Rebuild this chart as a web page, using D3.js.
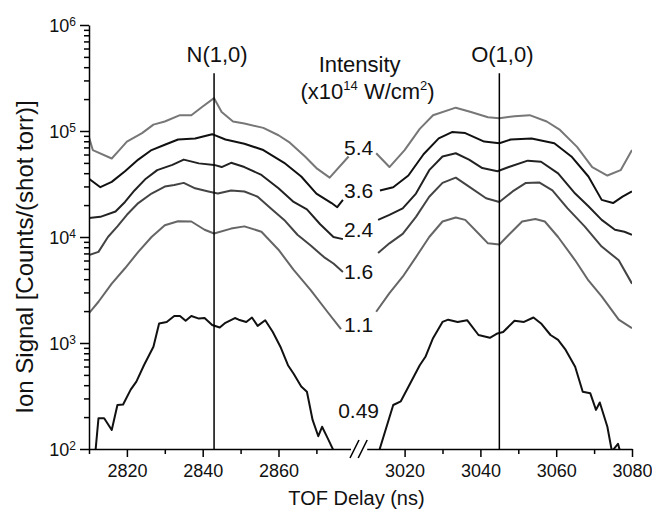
<!DOCTYPE html>
<html lang="en">
<head>
<meta charset="UTF-8">
<title>Ion signal vs TOF delay</title>
<style>
  body { margin: 0; background: #fff; }
  text { font-family: "Liberation Sans", Arial, Helvetica, sans-serif; fill: #111; }
</style>
</head>
<body>
<div id="chart"></div>
<script src="https://d3js.org/d3.v7.min.js"></script>
<script>
// laser intensity of each trace (x10^14 W/cm^2), top trace first
const intensities = ["5.4", "3.6", "2.4", "1.6", "1.1", "0.49"];
const traceColors = ["#777", "#111", "#222", "#444", "#666", "#111"];

// [TOF delay (ns), ion signal] around the N(1,0) revival
const n54 = [[2810, 87100], [2811, 66100], [2816, 55000], [2818, 66100], [2820, 79400], [2824, 95500],
  [2827, 114800], [2830, 123000], [2834, 141000], [2837, 141000], [2840, 170000], [2843, 204000],
  [2845, 151000], [2848, 123000], [2851, 117500], [2856, 107000], [2860, 91200], [2863, 77600],
  [2867, 57500], [2870, 44700], [2873.5, 36300], [2878.5, 57500]];
const n36 = [[2810, 35500], [2813, 29500], [2816, 33100], [2819.5, 41700], [2823, 53700], [2826.5, 66100],
  [2830, 74100], [2833.5, 83200], [2838, 85100], [2842.5, 93300], [2846, 83200], [2851, 75900],
  [2856, 66100], [2861.5, 50100], [2866, 37200], [2870, 25700], [2874, 20900], [2875.5, 19100], [2877, 22400]];
const n24 = [[2810, 15100], [2813, 15500], [2817, 17400], [2819.5, 21400], [2822, 27500], [2825, 35500],
  [2828, 42700], [2832, 47900], [2835, 53700], [2839, 49500], [2843, 47900], [2845, 45700],
  [2847.5, 50100], [2851, 45700], [2855.5, 38500], [2860, 28800], [2864, 21400], [2867.5, 18200],
  [2871, 13200], [2874.5, 10000], [2877, 9550]];
const n16 = [[2810, 6760], [2812.5, 7240], [2815, 10000], [2817.5, 12600], [2820, 16200], [2823, 20900],
  [2826.5, 25700], [2830, 29900], [2832.5, 30900], [2835, 32400], [2838, 28800], [2841.5, 26900],
  [2844, 25700], [2847.5, 27500], [2851, 26900], [2854.5, 24000], [2858, 18600], [2861.5, 14500],
  [2865, 10500], [2868.5, 8320], [2872, 6460], [2874.5, 5620], [2877, 4680]];
const n11 = [[2810, 1910], [2812.5, 2450], [2816, 3630], [2819.5, 5070], [2823, 7240], [2826.5, 10000],
  [2830, 12900], [2833.5, 14100], [2837, 14000], [2840.5, 11700], [2843, 10800], [2847.5, 12000],
  [2851, 12600], [2855.5, 11200], [2860, 7590], [2864, 4900], [2868.5, 3160], [2873, 1950], [2876.5, 1350]];
const n049 = [[2811.5, 79], [2812.5, 195], [2814, 195], [2816, 151], [2817.5, 260], [2819, 263],
  [2821, 363], [2822.5, 432], [2824.5, 617], [2827, 923], [2828.5, 1530], [2830.5, 1580],
  [2832.5, 1800], [2834, 1800], [2835.5, 1620], [2837, 1800], [2839, 1700], [2840.5, 1720],
  [2842.5, 1480], [2844.5, 1400], [2846, 1550], [2848.5, 1720], [2849.5, 1660], [2851.5, 1580],
  [2853, 1740], [2854.5, 1450], [2856.5, 1640], [2858.5, 1270], [2860.5, 923], [2862.5, 617],
  [2864, 513], [2866, 389], [2867.5, 347], [2869, 188], [2870.5, 132], [2871.5, 162], [2873, 126], [2875, 89]];

// around the O(1,0) revival
const o54 = [[3012.5, 61700], [3016, 45700], [3020, 66100], [3024, 104700], [3027.5, 141000],
  [3033.5, 166000], [3037.5, 151000], [3042, 135000], [3045, 132000], [3049, 138000], [3053, 141000],
  [3057.5, 123000], [3061, 102300], [3065.5, 70800], [3069.5, 45700], [3073.5, 38000], [3077, 42700], [3080, 66100]];
const o36 = [[3013.5, 27500], [3017, 29500], [3021, 38000], [3025, 60300], [3029, 85100], [3032.5, 97700],
  [3036, 95500], [3041, 79400], [3045, 76700], [3048, 83200], [3053.5, 85100], [3059.5, 76700],
  [3064, 57500], [3068.5, 37200], [3072, 22400], [3075, 20900], [3077.5, 24000], [3080, 26900]];
const o24 = [[3013, 14500], [3016, 16200], [3019.5, 18600], [3023, 25700], [3026.5, 42700], [3030, 57500],
  [3033.5, 61700], [3037, 53700], [3040.5, 44700], [3044.5, 41700], [3047.5, 45700], [3052.5, 52500],
  [3056, 51300], [3060.5, 39800], [3065, 25700], [3068.5, 19500], [3072, 14500], [3075.5, 11700],
  [3078, 11200], [3080, 10500]];
const o16 = [[3013, 7080], [3016, 8710], [3019.5, 10700], [3023, 15500], [3026.5, 24000], [3030, 32400],
  [3033.5, 36300], [3037, 29900], [3041.5, 23200], [3045, 21400], [3048.5, 26900], [3052, 32400],
  [3055.5, 32700], [3059, 27500], [3063, 18600], [3067.5, 12600], [3072, 8130], [3076.5, 6030], [3080, 3630]];
const o11 = [[3012.5, 1970], [3016, 2950], [3019.5, 4220], [3023, 6460], [3026.5, 10000], [3030, 14000],
  [3033.5, 15300], [3036, 14500], [3039.5, 10800], [3042, 8710], [3045, 8510], [3047.5, 10500],
  [3051, 14000], [3054.5, 14800], [3057, 14000], [3060.5, 10000], [3065, 6030], [3068.5, 3890],
  [3072, 2750], [3076.5, 1660], [3080, 1380]];
const o049 = [[3013, 89], [3017, 260], [3019, 282], [3021.5, 417], [3024, 617], [3025.5, 741],
  [3027.5, 1110], [3030, 1580], [3031.5, 1660], [3034, 1580], [3036.5, 1640], [3039.5, 1190],
  [3042.5, 1120], [3044.5, 1230], [3046, 1270], [3049, 1620], [3051.5, 1580], [3054, 1740],
  [3056, 1530], [3058.5, 1190], [3060.5, 1070], [3062.5, 861], [3065, 596], [3067, 347], [3069, 335],
  [3070.5, 234], [3071.5, 275], [3073.5, 162], [3074.7, 95], [3076.3, 112], [3077.5, 79]];

const nTraces = [n54, n36, n24, n16, n11, n049];
const oTraces = [o54, o36, o24, o16, o11, o049];

// axis ticks
const nTicks = [2820, 2840, 2860];
const nMinor = [2810, 2830, 2850, 2870];
const oTicks = [3020, 3040, 3060, 3080];
const oMinor = [3030, 3050, 3070];
const yExponents = [2, 3, 4, 5, 6];

// revival markers and where the intensity labels sit (signal level)
const revivals = [{name: "N(1,0)", t: 2843}, {name: "O(1,0)", t: 3045}];
const markerTop = 3.5e5;
const labelLevels = [59400, 23300, 10000, 4020, 1270, 196];

const W = 652, H = 510;
const svg = d3.select("#chart").append("svg").attr("width", W).attr("height", H);

const y = d3.scaleLog().domain([1e2, 1e6]).range([449, 25]);
const xN = d3.scaleLinear().domain([2810, 2879]).range([89, 350.5]);
const xO = d3.scaleLinear().domain([3010, 3080]).range([366.7, 632]);
const yB = y.range()[0];

// clip each panel so traces stop at the axes
[["clipN", xN], ["clipO", xO]].forEach(([id, x]) => {
  svg.append("clipPath").attr("id", id).append("rect")
    .attr("x", x.range()[0]).attr("y", y.range()[1])
    .attr("width", x.range()[1] - x.range()[0]).attr("height", yB - y.range()[1]);
});

function drawPanel(x, traces, clip) {
  const line = d3.line().x(d => x(d[0])).y(d => y(d[1]));
  svg.append("g").attr("clip-path", `url(#${clip})`)
    .selectAll("path").data(traces).join("path")
    .attr("d", line)
    .attr("fill", "none")
    .attr("stroke", (d, i) => traceColors[i])
    .attr("stroke-width", 2)
    .attr("stroke-linejoin", "round");
}
drawPanel(xN, nTraces, "clipN");
drawPanel(xO, oTraces, "clipO");

// vertical markers at the revivals
const panels = [xN, xO];
revivals.forEach((r, i) => {
  const x = panels[i];
  svg.append("line")
    .attr("x1", x(r.t)).attr("x2", x(r.t))
    .attr("y1", y(markerTop)).attr("y2", yB)
    .attr("stroke", "#000").attr("stroke-width", 1.5);
  svg.append("text")
    .attr("x", x(r.t) + 3).attr("y", y(markerTop) - 11)
    .attr("text-anchor", "middle").attr("font-size", 22)
    .text(r.name);
});

// x axes (broken)
function xAxis(x, major, minor) {
  const g = svg.append("g").attr("transform", `translate(0,${yB})`);
  g.call(d3.axisBottom(x).tickValues(major).tickSize(8).tickPadding(7)
      .tickSizeOuter(0).tickFormat(d3.format("d")))
    .attr("font-size", 18);
  g.append("g").call(d3.axisBottom(x).tickValues(minor).tickSize(5)
      .tickSizeOuter(0).tickFormat(""))
    .call(s => s.select(".domain").remove());
  g.selectAll("path, line").attr("stroke", "#000").attr("stroke-width", 1.5);
}
xAxis(xN, nTicks, nMinor);
xAxis(xO, oTicks, oMinor);

// break marks
[xN.range()[1] + 4, xO.range()[0] - 4].forEach(cx => {
  svg.append("line")
    .attr("x1", cx - 4.5).attr("y1", yB + 9)
    .attr("x2", cx + 4.5).attr("y2", yB - 9)
    .attr("stroke", "#000").attr("stroke-width", 1.5);
});

// y axis (log)
const yMajor = yExponents.map(e => Math.pow(10, e));
const yMinor = [];
yExponents.slice(0, -1).forEach(e => {
  for (let k = 2; k <= 9; k++) yMinor.push(k * Math.pow(10, e));
});
const gy = svg.append("g").attr("transform", `translate(${xN.range()[0]},0)`);
gy.call(d3.axisLeft(y).tickValues(yMajor).tickSize(9).tickPadding(4).tickSizeOuter(0))
  .attr("font-size", 18);
gy.append("g").call(d3.axisLeft(y).tickValues(yMinor).tickSize(5).tickSizeOuter(0).tickFormat(""))
  .call(s => s.select(".domain").remove());
gy.selectAll("path, line").attr("stroke", "#000").attr("stroke-width", 1.5);
gy.selectAll(".tick text").filter(d => yMajor.includes(d))
  .text(null)
  .attr("dy", "0.36em")
  .each(function (d) {
    const t = d3.select(this);
    t.append("tspan").text("10");
    t.append("tspan").attr("dy", -6).attr("font-size", 12).text(Math.round(Math.log10(d)));
  });

// axis titles
svg.append("text")
  .attr("x", (xN.range()[0] + xO.range()[1]) / 2 - 4).attr("y", 505)
  .attr("text-anchor", "middle").attr("font-size", 20)
  .text("TOF Delay (ns)");
svg.append("text")
  .attr("transform", `translate(33,257) rotate(-90)`)
  .attr("text-anchor", "middle").attr("font-size", 24)
  .text("Ion Signal [Counts/(shot torr)]");

// intensity legend heading
const gapX = (xN.range()[1] + xO.range()[0]) / 2;
svg.append("text")
  .attr("x", gapX + 1).attr("y", 72)
  .attr("text-anchor", "middle").attr("font-size", 22)
  .text("Intensity");
const unit = svg.append("text")
  .attr("x", gapX + 9).attr("y", 99)
  .attr("text-anchor", "middle").attr("font-size", 22);
unit.append("tspan").text("(x10");
unit.append("tspan").attr("dy", -9).attr("font-size", 13).text("14");
unit.append("tspan").attr("dy", 9).text(" W/cm");
unit.append("tspan").attr("dy", -9).attr("font-size", 13).text("2");
unit.append("tspan").attr("dy", 9).text(")");

// intensity value labels in the axis break
svg.append("g").selectAll("text").data(intensities).join("text")
  .attr("x", gapX)
  .attr("y", (d, i) => y(labelLevels[i]))
  .attr("text-anchor", "middle").attr("font-size", 21)
  .text(d => d);
</script>
</body>
</html>
